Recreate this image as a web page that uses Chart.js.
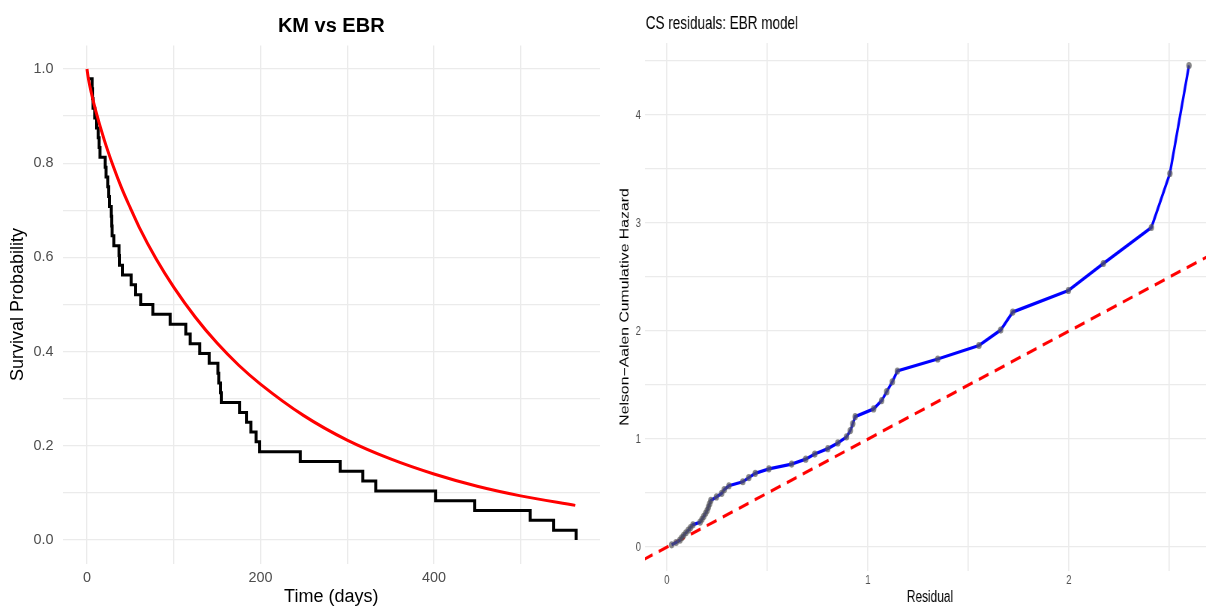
<!DOCTYPE html>
<html>
<head>
<meta charset="utf-8">
<script src="https://cdn.jsdelivr.net/npm/chart.js@4.4.1/dist/chart.umd.min.js"></script>
<style>
  html, body { margin: 0; padding: 0; background: #fff; overflow: hidden; width: 1206px; height: 606px; }
  #left { position: absolute; left: 0; top: 0; }
  /* right panel text in the source is horizontally condensed */
  #rightWrap { position: absolute; left: 603px; top: 0; transform: scaleX(0.75); transform-origin: 0 0; }
</style>
</head>
<body>
<canvas id="left" width="603" height="606"></canvas>
<div id="rightWrap"><canvas id="right" width="830" height="606"></canvas></div>
<script>
const FONT = "'Liberation Sans', Arial, sans-serif";

// left panel: Kaplan-Meier steps and fitted EBR survival
const kmTime = [2, 6, 6.5, 7, 9, 11, 13, 14, 15, 21, 22, 24, 25, 26, 28, 28.5, 29, 31, 37, 37.5,
  41, 51, 56, 62, 76, 96, 114, 119, 130, 141, 151, 152, 154, 155, 176, 184, 189, 195, 199, 246,
  292, 318, 333, 402, 447, 511, 538, 564];
const kmSurv = [0.9792, 0.9583, 0.9375, 0.9167, 0.8958, 0.875, 0.8542, 0.8333, 0.8125, 0.7917,
  0.7708, 0.75, 0.7292, 0.7083, 0.6875, 0.6667, 0.6458, 0.625, 0.6042, 0.5833,
  0.5625, 0.5417, 0.5208, 0.5, 0.4792, 0.4583, 0.4375, 0.4167, 0.3958, 0.375,
  0.3542, 0.3333, 0.3125, 0.2917, 0.2708, 0.25, 0.2292, 0.2083, 0.1875, 0.1667,
  0.1458, 0.125, 0.1042, 0.0833, 0.0625, 0.0417, 0.0208, 0];
const ebrTime = [0, 2, 5, 10, 20, 30, 40, 50, 60, 80, 100, 125, 150, 175, 200, 250, 300, 350, 400, 450, 500, 563];
const ebrSurv = [1.0, 0.976, 0.950, 0.912, 0.849, 0.795, 0.747, 0.705, 0.665, 0.596, 0.537, 0.473,
  0.418, 0.371, 0.331, 0.264, 0.212, 0.172, 0.140, 0.114, 0.0936, 0.0734];
const kmXTicks = [0, 100, 200, 300, 400, 500];
const kmXLabels = [0, 200, 400];
const kmYTicks = [0, 0.1, 0.2, 0.3, 0.4, 0.5, 0.6, 0.7, 0.8, 0.9, 1.0];
const kmYLabels = [0, 0.2, 0.4, 0.6, 0.8, 1.0];

// right panel: Cox-Snell residuals vs Nelson-Aalen cumulative hazard
const csResid = [0.023, 0.045, 0.064, 0.073, 0.083, 0.094, 0.106, 0.117, 0.129, 0.165,
  0.174, 0.183, 0.192, 0.200, 0.206, 0.212, 0.218, 0.246, 0.272, 0.285,
  0.308, 0.377, 0.407, 0.439, 0.507, 0.620, 0.690, 0.735, 0.800, 0.850,
  0.893, 0.912, 0.924, 0.936, 1.028, 1.068, 1.093, 1.121, 1.146, 1.347,
  1.552, 1.660, 1.720, 1.997, 2.171, 2.410, 2.502, 2.597];
const naHaz = [0.0208, 0.0421, 0.0638, 0.0861, 0.1088, 0.1321, 0.1559, 0.1803, 0.2053, 0.2309,
  0.2572, 0.2842, 0.3120, 0.3406, 0.3700, 0.4003, 0.4316, 0.4638, 0.4971, 0.5316,
  0.5673, 0.6044, 0.6428, 0.6828, 0.7245, 0.7680, 0.8134, 0.8611, 0.9111, 0.9637,
  1.0192, 1.0781, 1.1406, 1.2072, 1.2787, 1.3556, 1.4389, 1.5298, 1.6298, 1.7409,
  1.8659, 2.0088, 2.1755, 2.3755, 2.6255, 2.9588, 3.4588, 4.4588];
const refLine = [-0.2, 3];
const csXTicks = [0, 0.5, 1, 1.5, 2, 2.5];
const csXLabels = [0, 1, 2];
const csYTicks = [0, 0.5, 1, 1.5, 2, 2.5, 3, 3.5, 4, 4.5];
const csYLabels = [0, 1, 2, 3, 4];

const has = (list, v) => list.some(l => Math.abs(l - v) < 1e-9);

function panelTitle(text, font, align, y) {
  return {
    id: 'panelTitle',
    afterDraw(chart) {
      const c = chart.ctx, a = chart.chartArea;
      c.save();
      c.font = font;
      c.fillStyle = '#000';
      c.textBaseline = 'middle';
      c.textAlign = align;
      c.fillText(text, align === 'center' ? (a.left + a.right) / 2 : a.left + 1, y);
      c.restore();
    }
  };
}

new Chart(document.getElementById('left'), {
  type: 'line',
  data: {
    datasets: [
      { data: ebrTime.map((t, i) => ({ x: t, y: ebrSurv[i] })), borderColor: '#FF0000', borderWidth: 3,
        pointRadius: 0, cubicInterpolationMode: 'monotone', order: 0 },
      { data: kmTime.map((t, i) => ({ x: t, y: kmSurv[i] })), borderColor: '#000000', borderWidth: 3,
        pointRadius: 0, stepped: 'before', order: 1 }
    ]
  },
  options: {
    responsive: false,
    animation: false,
    layout: { padding: { top: 45.5, right: 3, left: 0, bottom: 0 } },
    plugins: { legend: { display: false }, tooltip: { enabled: false } },
    scales: {
      x: {
        type: 'linear', min: -28.2, max: 591.5,
        afterBuildTicks: a => { a.ticks = kmXTicks.map(v => ({ value: v })); },
        afterFit: a => { a.height = 42.5; },
        grid: { color: '#EBEBEB', lineWidth: 1.3, drawTicks: false },
        border: { display: false },
        ticks: { autoSkip: false, maxRotation: 0, padding: 6, color: '#4D4D4D',
          font: { family: FONT, size: 14.4 }, callback: v => has(kmXLabels, v) ? String(v) : '' },
        title: { display: true, text: 'Time (days)', color: '#000',
          font: { family: FONT, size: 18, lineHeight: 1 }, padding: { top: 0, bottom: 0 } }
      },
      y: {
        min: -0.05, max: 1.05,
        afterBuildTicks: a => { a.ticks = kmYTicks.map(v => ({ value: v })); },
        afterFit: a => { a.width = 62.5; },
        grid: { color: '#EBEBEB', lineWidth: 1.3, drawTicks: false },
        border: { display: false },
        ticks: { autoSkip: false, padding: 9, color: '#4D4D4D',
          font: { family: FONT, size: 14.4 }, callback: v => has(kmYLabels, v) ? v.toFixed(1) : '' },
        title: { display: true, text: 'Survival Probability', color: '#000',
          font: { family: FONT, size: 18, lineHeight: 1 }, padding: { top: 9, bottom: 0 } }
      }
    }
  },
  plugins: [panelTitle('KM vs EBR', 'bold 20px ' + FONT, 'center', 26)]
});

new Chart(document.getElementById('right'), {
  type: 'line',
  data: {
    datasets: [
      { data: csResid.map((r, i) => ({ x: r, y: naHaz[i] })), borderColor: '#0000FF', borderWidth: 3.3,
        pointRadius: 3.6, pointBackgroundColor: 'rgba(85,85,85,0.7)', pointBorderWidth: 0, order: 0 },
      { data: refLine.map(v => ({ x: v, y: v })), borderColor: '#FF0000', borderWidth: 3.2,
        borderDash: [14, 9], pointRadius: 0, order: 1 }
    ]
  },
  options: {
    responsive: false,
    animation: false,
    layout: { padding: { top: 43, right: 14, left: 0, bottom: 0 } },
    plugins: { legend: { display: false }, tooltip: { enabled: false } },
    scales: {
      x: {
        type: 'linear', min: -0.1095, max: 2.7264,
        afterBuildTicks: a => { a.ticks = csXTicks.map(v => ({ value: v })); },
        afterFit: a => { a.height = 35; },
        grid: { color: '#EBEBEB', lineWidth: 1.7, drawTicks: false },
        border: { display: false },
        ticks: { autoSkip: false, maxRotation: 0, padding: 2, color: '#4D4D4D',
          font: { family: FONT, size: 12.6 }, callback: v => has(csXLabels, v) ? String(v) : '' },
        title: { display: true, text: 'Residual', color: '#000',
          font: { family: FONT, size: 15.8, lineHeight: 1 }, padding: { top: 0, bottom: 0 } }
      },
      y: {
        min: -0.222, max: 4.667,
        afterBuildTicks: a => { a.ticks = csYTicks.map(v => ({ value: v })); },
        afterFit: a => { a.width = 56; },
        grid: { color: '#EBEBEB', lineWidth: 1.3, drawTicks: false },
        border: { display: false },
        ticks: { autoSkip: false, padding: 5.5, color: '#4D4D4D',
          font: { family: FONT, size: 12.6 }, callback: v => has(csYLabels, v) ? String(v) : '' },
        title: { display: true, text: 'Nelson\u2212Aalen Cumulative Hazard', color: '#000',
          font: { family: FONT, size: 15.8, lineHeight: 1 }, padding: { top: 22, bottom: 0 } }
      }
    }
  },
  plugins: [panelTitle('CS residuals: EBR model', '18px ' + FONT, 'left', 24)]
});
</script>
</body>
</html>
